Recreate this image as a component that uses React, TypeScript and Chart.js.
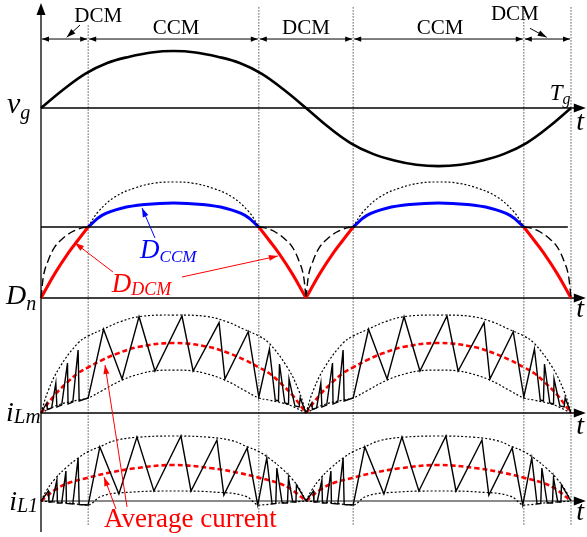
import React, { useEffect, useRef } from 'react';
import { Chart, registerables } from 'chart.js';

Chart.register(...registerables);

const SERIF = '"Liberation Serif", "Times New Roman", serif';
const W = 587;
const H = 537;
const RED = '#ff0000';
const BLUE = '#0000ff';

// ---------------- data (time t in units of the line period Tg) ----------------
const modeBounds = [0, 0.089, 0.411, 0.589, 0.911, 1.0];
const modeNames = ['DCM', 'CCM', 'DCM', 'CCM', 'DCM'];

// grid voltage vg (normalised)
const vgT = [0, 0.0417, 0.0833, 0.125, 0.1667, 0.2083, 0.25, 0.2917, 0.3333, 0.375, 0.4167, 0.4583, 0.5,
  0.5417, 0.5833, 0.625, 0.6667, 0.7083, 0.75, 0.7917, 0.8333, 0.875, 0.9167, 0.9583, 1.0];
const vgV = [0, 0.32, 0.6, 0.79, 0.9, 0.975, 1.0, 0.975, 0.9, 0.79, 0.6, 0.32, 0,
  -0.33, -0.61, -0.8, -0.92, -0.995, -1.02, -0.995, -0.92, -0.8, -0.61, -0.33, 0];

// duty cycle Dn (one half period, repeated)
const dBoundT = [0, 0.994];
const dBoundV = [0.612, 0.612];
const dLimT = [0.089, 0.108, 0.14, 0.177, 0.215, 0.25, 0.285, 0.323, 0.36, 0.392, 0.411];
const dLimV = [0.612, 0.744, 0.873, 0.948, 0.991, 1.0, 0.991, 0.948, 0.873, 0.744, 0.612];
const dCcmT = [0.089, 0.115, 0.152, 0.196, 0.25, 0.304, 0.348, 0.385, 0.411];
const dCcmV = [0.612, 0.712, 0.774, 0.806, 0.819, 0.806, 0.774, 0.712, 0.612];
const dDcmRiseT = [0, 0.026, 0.051, 0.07, 0.089];
const dDcmRiseV = [0, 0.21, 0.385, 0.5, 0.612];
const dDcmFallT = [0.411, 0.43, 0.449, 0.474, 0.5];
const dDcmFallV = [0.612, 0.5, 0.385, 0.21, 0];
const dDcmLimRiseT = [0, 0.004, 0.014, 0.026, 0.042, 0.058, 0.077, 0.089];
const dDcmLimRiseV = [0, 0.172, 0.328, 0.44, 0.517, 0.569, 0.604, 0.612];
const dDcmLimFallT = [0.411, 0.423, 0.442, 0.458, 0.474, 0.486, 0.496, 0.5];
const dDcmLimFallV = [0.612, 0.604, 0.569, 0.517, 0.44, 0.328, 0.172, 0];

// magnetising current iLm (one half period, repeated)
const iLmT = [0, 0.011, 0.012, 0.02, 0.028, 0.03, 0.039, 0.05, 0.051, 0.06,
  0.07, 0.072, 0.089, 0.118, 0.153, 0.185, 0.215, 0.266, 0.287, 0.336,
  0.347, 0.391, 0.411, 0.431, 0.442, 0.448, 0.45, 0.46, 0.467, 0.468,
  0.479, 0.487, 0.489, 0.5];
const iLmV = [0, 0.106, 0.036, 0.052, 0.309, 0.062, 0.082, 0.515, 0.093, 0.113,
  0.649, 0.124, 0.155, 0.863, 0.351, 0.993, 0.433, 1.0, 0.433, 0.931,
  0.351, 0.838, 0.165, 0.66, 0.134, 0.124, 0.505, 0.103, 0.093, 0.351,
  0.072, 0.062, 0.155, 0];
const iLmUpT = [0, 0.014, 0.036, 0.07, 0.089, 0.117, 0.149, 0.187, 0.25, 0.313, 0.351, 0.383, 0.411, 0.43, 0.464, 0.486, 0.5];
const iLmUpV = [0, 0.237, 0.478, 0.722, 0.794, 0.863, 0.94, 0.995, 1.01, 0.995, 0.94, 0.863, 0.794, 0.722, 0.478, 0.237, 0];
const iLmLoT = [0, 0.032, 0.07, 0.089, 0.115, 0.153, 0.191, 0.215, 0.25, 0.285, 0.309, 0.347, 0.385, 0.411, 0.43, 0.468, 0.5];
const iLmLoV = [0, 0.082, 0.134, 0.155, 0.23, 0.34, 0.41, 0.435, 0.443, 0.435, 0.41, 0.34, 0.23, 0.155, 0.134, 0.082, 0];
const iLmAvgT = [0, 0.026, 0.051, 0.07, 0.089, 0.115, 0.145, 0.183, 0.25, 0.317, 0.355, 0.385, 0.411, 0.43, 0.449, 0.474, 0.5];
const iLmAvgV = [0, 0.186, 0.323, 0.412, 0.47, 0.545, 0.615, 0.68, 0.722, 0.68, 0.615, 0.545, 0.47, 0.412, 0.323, 0.186, 0];

// input inductor current iL1 (one half period, repeated)
const iL1T = [0, 0.014, 0.015, 0.021, 0.03, 0.031, 0.039, 0.047, 0.048, 0.06,
  0.07, 0.072, 0.089, 0.111, 0.147, 0.181, 0.213, 0.264, 0.283, 0.332,
  0.345, 0.389, 0.409, 0.426, 0.436, 0.443, 0.445, 0.455, 0.465, 0.467,
  0.475, 0.481, 0.482, 0.5];
const iL1V = [0, 0.154, -0.015, -0.015, 0.323, -0.031, -0.031, 0.462, -0.038, -0.046,
  0.662, -0.054, -0.062, 0.831, 0.108, 0.985, 0.154, 1.0, 0.154, 0.938,
  0.092, 0.815, -0.062, 0.662, -0.046, -0.038, 0.508, -0.031, -0.031, 0.354,
  -0.015, -0.015, 0.246, 0];
const iL1UpT = [0, 0.011, 0.026, 0.047, 0.07, 0.089, 0.111, 0.14, 0.181, 0.25, 0.319, 0.36, 0.389, 0.411, 0.43, 0.453, 0.474, 0.489, 0.5];
const iL1UpV = [0, 0.169, 0.338, 0.51, 0.66, 0.76, 0.835, 0.93, 0.98, 1.0, 0.98, 0.93, 0.835, 0.76, 0.66, 0.51, 0.338, 0.169, 0];
const iL1LoT = [0, 0.051, 0.089, 0.111, 0.174, 0.25, 0.326, 0.389, 0.411, 0.449, 0.5];
const iL1LoV = [0, -0.031, -0.062, 0.062, 0.138, 0.154, 0.138, 0.062, -0.062, -0.031, 0];
const iL1AvgT = [0, 0.026, 0.052, 0.087, 0.126, 0.177, 0.25, 0.323, 0.374, 0.413, 0.448, 0.474, 0.5];
const iL1AvgV = [0, 0.169, 0.277, 0.354, 0.431, 0.503, 0.554, 0.503, 0.431, 0.354, 0.277, 0.169, 0];

const halfShifts = [0, 0.5];

// ---------------- layout ----------------
const X0 = 41;      // pixel of t = 0
const XUNIT = 530;  // pixels per Tg
const PANELS: any = {
  yV: { base: 108, unit: 57 },
  yD: { base: 298, unit: 116 },
  yM: { base: 413, unit: 97 },
  y1: { base: 501, unit: 65 },
};
const AXIS_END = 1.028;

const axisLabels = [
  { main: 'v', sub: 'g', t: -0.0642, axis: 'yV', v: -0.088, size: 30, subSize: 20, dy: 6, color: '#000' },
  { main: 'D', sub: 'n', t: -0.066, axis: 'yD', v: -0.052, size: 28, subSize: 20, dy: 6, color: '#000' },
  { main: 'i', sub: 'Lm', t: -0.066, axis: 'yM', v: -0.082, size: 28, subSize: 21, dy: 2, color: '#000' },
  { main: 'i', sub: 'L1', t: -0.06, axis: 'y1', v: -0.138, size: 28, subSize: 20, dy: 2, color: '#000' },
  { main: 'T', sub: 'g', t: 0.96, axis: 'yV', v: 0.14, size: 23, subSize: 16, dy: 4, color: '#000' },
  { main: 'D', sub: 'CCM', t: 0.187, axis: 'yD', v: 0.342, size: 27, subSize: 17, dy: 4, color: BLUE },
  { main: 'D', sub: 'DCM', t: 0.1334, axis: 'yD', v: 0.054, size: 27, subSize: 18, dy: 3, color: RED },
];
const tLabels = [
  { axis: 'yV', v: -0.386 },
  { axis: 'yD', v: -0.164 },
  { axis: 'yM', v: -0.216 },
  { axis: 'y1', v: -0.292 },
];
const modeLabelPos = [
  { t: 0.108, v: 1.509 },
  { t: 0.255, v: 1.29 },
  { t: 0.5, v: 1.29 },
  { t: 0.753, v: 1.29 },
  { t: 0.894, v: 1.544 },
];
const pointers = [
  { from: [0.0736, 1.456], to: [0.0485, 1.24], axis: 'yV', color: '#000', w: 1 },
  { from: [0.9226, 1.398], to: [0.9542, 1.24], axis: 'yV', color: '#000', w: 1 },
  { from: [0.2151, 0.517], to: [0.1906, 0.776], axis: 'yD', color: BLUE, w: 1 },
  { from: [0.1358, 0.224], to: [0.0642, 0.474], axis: 'yD', color: RED, w: 1 },
  { from: [0.266, 0.181], to: [0.447, 0.362], axis: 'yD', color: RED, w: 1 },
  { from: [0.1623, -0.969], to: [0.1208, 0.495], axis: 'yM', color: RED, w: 1 },
  { from: [0.1415, -0.123], to: [0.1189, 0.369], axis: 'y1', color: RED, w: 1 },
];

function pts(ts: number[], vs: number[], shift = 0) {
  return ts.map((t, i) => ({ x: t + shift, y: vs[i] }));
}

// mode: 'spline' | 'monotone' | 'straight'
function line(data: any[], axis: string, color: string, width: number, dash: number[] = [], mode = 'spline') {
  return {
    data,
    yAxisID: axis,
    showLine: true,
    borderColor: color,
    backgroundColor: color,
    borderWidth: width,
    borderDash: dash,
    pointRadius: 0,
    pointHoverRadius: 0,
    fill: false,
    tension: mode === 'spline' ? 0.4 : 0,
    cubicInterpolationMode: mode === 'monotone' ? 'monotone' : 'default',
    borderJoinStyle: 'miter',
    borderCapStyle: 'butt',
  };
}

function head(ctx: any, x1: number, y1: number, x2: number, y2: number, len: number, hw: number) {
  const a = Math.atan2(y2 - y1, x2 - x1);
  const c = Math.cos(a), s = Math.sin(a);
  ctx.beginPath();
  ctx.moveTo(x2, y2);
  ctx.lineTo(x2 - len * c + hw * s, y2 - len * s - hw * c);
  ctx.lineTo(x2 - len * c - hw * s, y2 - len * s + hw * c);
  ctx.closePath();
  ctx.fill();
}

function arrow(ctx: any, x1: number, y1: number, x2: number, y2: number, color: string, width: number, len: number, hw: number, both = false) {
  ctx.save();
  ctx.setLineDash([]);
  ctx.strokeStyle = color;
  ctx.fillStyle = color;
  ctx.lineWidth = width;
  ctx.beginPath();
  ctx.moveTo(x1, y1);
  ctx.lineTo(x2, y2);
  ctx.stroke();
  head(ctx, x1, y1, x2, y2, len, hw);
  if (both) head(ctx, x2, y2, x1, y1, len, hw);
  ctx.restore();
}

const overlay = {
  id: 'overlay',
  beforeDatasetsDraw(chart: any) {
    const ctx = chart.ctx;
    const X = (t: number) => chart.scales.x.getPixelForValue(t);
    const Y = (a: string, v: number) => chart.scales[a].getPixelForValue(v);
    ctx.save();
    // mode boundary lines
    ctx.strokeStyle = '#555';
    ctx.lineWidth = 1;
    ctx.setLineDash([1.5, 1.5]);
    modeBounds.slice(1).forEach((b, i) => {
      ctx.beginPath();
      ctx.moveTo(X(b), Y('yV', i === 0 ? 1.45 : 1.77));
      ctx.lineTo(X(b), Y('y1', -0.385));
      ctx.stroke();
    });
    ctx.setLineDash([]);
    // horizontal axes
    const axStyle: any = { yV: ['#000', 1.3], yD: ['#000', 1.3], yM: ['#000', 1.3], y1: ['#8a8a8a', 2.2] };
    Object.keys(PANELS).forEach((a) => {
      const y = Y(a, 0);
      ctx.strokeStyle = axStyle[a][0];
      ctx.lineWidth = axStyle[a][1];
      ctx.beginPath();
      ctx.moveTo(X(0), y);
      ctx.lineTo(X(AXIS_END) - 8, y);
      ctx.stroke();
      ctx.fillStyle = '#000';
      head(ctx, X(0), y, X(AXIS_END), y, 12, 4.5);
    });
    // vertical axis
    ctx.strokeStyle = '#000';
    ctx.lineWidth = 1.3;
    ctx.beginPath();
    ctx.moveTo(X(0), Y('y1', -0.477));
    ctx.lineTo(X(0), Y('yV', 1.84) + 8);
    ctx.stroke();
    ctx.fillStyle = '#000';
    head(ctx, X(0), Y('yV', 0), X(0), Y('yV', 1.84), 12, 4.5);
    // DCM / CCM interval arrows
    const ya = Y('yV', 1.21);
    for (let i = 0; i < modeBounds.length - 1; i++) {
      arrow(ctx, X(modeBounds[i]) + 1, ya, X(modeBounds[i + 1]) - 1, ya, '#000', 1, 7, 2.6, true);
    }
    ctx.restore();
  },
  afterDatasetsDraw(chart: any) {
    const ctx = chart.ctx;
    const X = (t: number) => chart.scales.x.getPixelForValue(t);
    const Y = (a: string, v: number) => chart.scales[a].getPixelForValue(v);
    ctx.save();
    ctx.textBaseline = 'alphabetic';
    // mode names
    ctx.fillStyle = '#000';
    ctx.font = `21px ${SERIF}`;
    ctx.textAlign = 'center';
    modeNames.forEach((n, i) => {
      ctx.fillText(n, X(modeLabelPos[i].t), Y('yV', modeLabelPos[i].v));
    });
    // t labels
    ctx.textAlign = 'left';
    ctx.font = `italic 28px ${SERIF}`;
    tLabels.forEach((l) => ctx.fillText('t', X(1.01), Y(l.axis, l.v)));
    // labels with subscripts
    axisLabels.forEach((l) => {
      const x = X(l.t);
      const y = Y(l.axis, l.v);
      ctx.fillStyle = l.color;
      ctx.font = `italic ${l.size}px ${SERIF}`;
      ctx.fillText(l.main, x, y);
      const w = ctx.measureText(l.main).width;
      ctx.font = `italic ${l.subSize}px ${SERIF}`;
      ctx.fillText(l.sub, x + w, y + l.dy);
    });
    // Average current
    ctx.fillStyle = RED;
    ctx.font = `27px ${SERIF}`;
    ctx.fillText('Average current', X(0.1189), Y('y1', -0.4));
    // pointer arrows
    pointers.forEach((p) => {
      arrow(ctx, X(p.from[0]), Y(p.axis, p.from[1]), X(p.to[0]), Y(p.axis, p.to[1]), p.color, p.w, 9, 3, false);
    });
    ctx.restore();
  },
};

export default function App() {
  const ref = useRef<HTMLCanvasElement | null>(null);
  useEffect(() => {
    document.body.style.margin = '0';
    const canvas = ref.current;
    if (!canvas) return;

    const datasets: any[] = [];
    datasets.push(line(pts(dBoundT, dBoundV), 'yD', '#000', 1.3, [], 'straight'));
    datasets.push(line(pts(vgT, vgV), 'yV', '#000', 2.6));
    halfShifts.forEach((s) => {
      // duty cycle
      datasets.push(line(pts(dLimT, dLimV, s), 'yD', '#000', 1.2, [2, 2]));
      datasets.push(line(pts(dDcmLimRiseT, dDcmLimRiseV, s), 'yD', '#000', 1.4, [8, 4], 'monotone'));
      datasets.push(line(pts(dDcmLimFallT, dDcmLimFallV, s), 'yD', '#000', 1.4, [8, 4], 'monotone'));
      datasets.push(line(pts(dCcmT, dCcmV, s), 'yD', BLUE, 3));
      datasets.push(line(pts(dDcmRiseT, dDcmRiseV, s), 'yD', RED, 3));
      datasets.push(line(pts(dDcmFallT, dDcmFallV, s), 'yD', RED, 3));
      // iLm
      datasets.push(line(pts(iLmUpT, iLmUpV, s), 'yM', '#000', 1.2, [2, 2]));
      datasets.push(line(pts(iLmLoT, iLmLoV, s), 'yM', '#000', 1.2, [2, 2]));
      datasets.push(line(pts(iLmT, iLmV, s), 'yM', '#000', 1.4, [], 'straight'));
      datasets.push(line(pts(iLmAvgT, iLmAvgV, s), 'yM', RED, 2.6, [5, 3]));
      // iL1
      datasets.push(line(pts(iL1UpT, iL1UpV, s), 'y1', '#000', 1.2, [2, 2]));
      datasets.push(line(pts(iL1LoT, iL1LoV, s), 'y1', '#000', 1.2, [2, 2], 'monotone'));
      datasets.push(line(pts(iL1T, iL1V, s), 'y1', '#000', 1.4, [], 'straight'));
      datasets.push(line(pts(iL1AvgT, iL1AvgV, s), 'y1', RED, 2.6, [5, 3]));
    });

    const scales: any = {
      x: { type: 'linear', display: false, bounds: 'data', min: -X0 / XUNIT, max: (W - X0) / XUNIT },
      y: { type: 'linear', display: false },
    };
    Object.keys(PANELS).forEach((id) => {
      const p = PANELS[id];
      const max = p.base / p.unit;
      scales[id] = { type: 'linear', display: false, bounds: 'data', min: max - H / p.unit, max };
    });

    const chart = new Chart(canvas, {
      type: 'scatter',
      data: { datasets },
      options: {
        responsive: false,
        maintainAspectRatio: false,
        devicePixelRatio: 1,
        animation: false,
        events: [],
        layout: { padding: 0 },
        plugins: { legend: { display: false }, tooltip: { enabled: false }, title: { display: false } },
        scales,
      },
      plugins: [overlay],
    } as any);
    return () => chart.destroy();
  }, []);

  return (
    <canvas
      ref={ref}
      width={W}
      height={H}
      style={{ display: 'block', width: W, height: H, position: 'absolute', left: 0, top: 0, background: '#fff' }}
    />
  );
}
